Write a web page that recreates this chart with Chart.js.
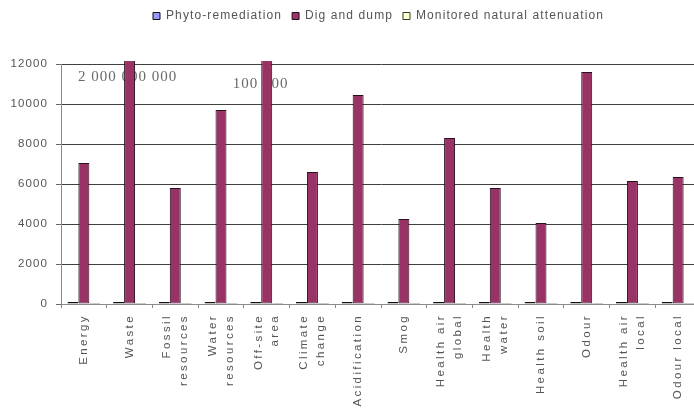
<!DOCTYPE html>
<html>
<head>
<meta charset="utf-8">
<script src="https://cdn.jsdelivr.net/npm/chart.js@4/dist/chart.umd.min.js"></script>
<style>
  html, body { margin: 0; padding: 0; background: #fff; overflow: hidden; }
  #wrap { position: relative; width: 702px; height: 410px; }
</style>
</head>
<body>
<div id="wrap"><canvas id="chart"></canvas></div>
<script>
// Impact categories (multi-line entries wrap under the axis)
const categories = [
  'Energy', 'Waste', ['Fossil', 'resources'], ['Water', 'resources'], ['Off-site', 'area'],
  ['Climate', 'change'], 'Acidification', 'Smog', ['Health air', 'global'], ['Health', 'water'],
  'Health soil', 'Odour', ['Health air', 'local'], 'Odour local'
];

// Scores per remediation option
const phytoRemediation = [100, 100, 100, 100, 100, 100, 100, 100, 100, 100, 100, 100, 100, 100];
const digAndDump = [7050, 2000000000, 5800, 9700, 100000, 6600, 10450, 4250, 8300, 5800, 4050, 11600, 6150, 6350];
const monitoredAttenuation = [50, 50, 50, 50, 50, 50, 50, 50, 50, 50, 50, 50, 50, 50];

// Value axis
const yTicks = [0, 2000, 4000, 6000, 8000, 10000, 12000];

const SANS = '"Liberation Sans", Arial, sans-serif';
const SERIF = '"Liberation Serif", "Times New Roman", serif';

// Category axis that spaces its letters out and centres wrapped labels on the tick
const X_LETTER_SPACING = '2.4px';
class SpacedCategoryScale extends Chart.CategoryScale {
  drawLabels(chartArea) {
    const ctx = this.ctx;
    const prev = ctx.letterSpacing;
    ctx.letterSpacing = X_LETTER_SPACING;
    super.drawLabels(chartArea);
    ctx.letterSpacing = prev;
  }
  _computeLabelItems(chartArea) {
    const items = super._computeLabelItems(chartArea);
    for (const item of items) {
      const lines = Array.isArray(item.label) ? item.label.length : 1;
      if (lines > 1) item.options.translation[0] -= (lines - 1) * item.font.lineHeight / 2;
    }
    return items;
  }
}
SpacedCategoryScale.id = 'spacedCategory';
SpacedCategoryScale.defaults = Chart.CategoryScale.defaults;
Chart.register(SpacedCategoryScale);

// Slightly tracked text everywhere else
const textTracking = {
  id: 'textTracking',
  beforeLayout(chart) { chart.ctx.letterSpacing = '1.1px'; },
  beforeDraw(chart) { chart.ctx.letterSpacing = '1.1px'; }
};

// Room under the legend and a nudge to the right
const legendPlacement = {
  id: 'legendPlacement',
  beforeInit(chart) {
    const legend = chart.legend;
    const fit = legend.fit;
    legend.fit = function () { fit.call(this); this.height += 32; };
  },
  afterLayout(chart) {
    chart.legend.left += 28;
    chart.legend.right += 28;
  }
};

// Values of bars that run off the top of the axis, written under the bars
const offScaleLabels = {
  id: 'offScaleLabels',
  beforeDatasetsDraw(chart) {
    const ctx = chart.ctx;
    const meta = chart.getDatasetMeta(1);
    const yMax = chart.scales.y.max;
    const nudges = [[-2, 13], [-6, 20]];
    let n = 0;
    ctx.save();
    ctx.font = '15px ' + SERIF;
    ctx.fillStyle = '#6a6a6a';
    ctx.textAlign = 'center';
    ctx.textBaseline = 'middle';
    ctx.letterSpacing = '1px';
    digAndDump.forEach((v, i) => {
      if (v <= yMax) return;
      const [dx, dy] = nudges[Math.min(n++, nudges.length - 1)];
      const text = String(v).replace(/\B(?=(\d{3})+(?!\d))/g, ' ');
      ctx.fillText(text, meta.data[i].x + dx, chart.chartArea.top + dy);
    });
    ctx.restore();
  }
};

const barClip = { left: 0, top: 3, right: 0, bottom: 0 };

new Chart(document.getElementById('chart'), {
  type: 'bar',
  data: {
    labels: categories,
    datasets: [
      { label: 'Phyto-remediation', data: phytoRemediation, backgroundColor: '#9999ff',
        borderColor: '#111', borderWidth: 1, borderSkipped: false, clip: barClip },
      { label: 'Dig and dump', data: digAndDump, backgroundColor: '#993366',
        borderColor: '#2a0f1d', borderWidth: 1, borderSkipped: false, clip: barClip },
      { label: 'Monitored natural attenuation', data: monitoredAttenuation, backgroundColor: '#ffffcc',
        borderColor: '#333', borderWidth: 1, borderSkipped: false, clip: barClip }
    ]
  },
  options: {
    responsive: true,
    maintainAspectRatio: false,
    animation: false,
    devicePixelRatio: 1,
    layout: { padding: { left: 0, right: 1, top: 0, bottom: 0 } },
    datasets: { bar: { categoryPercentage: 0.72, barPercentage: 1, inflateAmount: 0 } },
    plugins: {
      tooltip: { enabled: false },
      legend: {
        position: 'top',
        labels: {
          boxWidth: 7, boxHeight: 7, padding: 10, color: '#555',
          font: { family: SANS, size: 12 }
        }
      }
    },
    scales: {
      x: {
        type: 'spacedCategory',
        grid: { display: true, drawOnChartArea: false, offset: true, tickLength: 4, color: '#888' },
        border: { color: '#8a8a8a' },
        ticks: {
          autoSkip: false, minRotation: 90, maxRotation: 90, padding: 6, color: '#555',
          font: { family: SANS, size: 11.5, lineHeight: 1.45 }
        },
        afterFit(scale) { scale.height = 106; }
      },
      y: {
        min: yTicks[0],
        max: yTicks[yTicks.length - 1],
        afterBuildTicks(scale) { scale.ticks = yTicks.map(v => ({ value: v })); },
        grid: {
          color: ctx => (ctx.tick && ctx.tick.value === 0 ? '#8a8a8a' : '#404040'),
          tickColor: '#666', tickLength: 5, lineWidth: 1
        },
        border: { color: '#8a8a8a' },
        ticks: {
          padding: 8, color: '#555', font: { family: SANS, size: 11.5 },
          callback: v => String(v)
        },
        afterFit(scale) { scale.width = 61; }
      }
    }
  },
  plugins: [textTracking, legendPlacement, offScaleLabels]
});
</script>
</body>
</html>
